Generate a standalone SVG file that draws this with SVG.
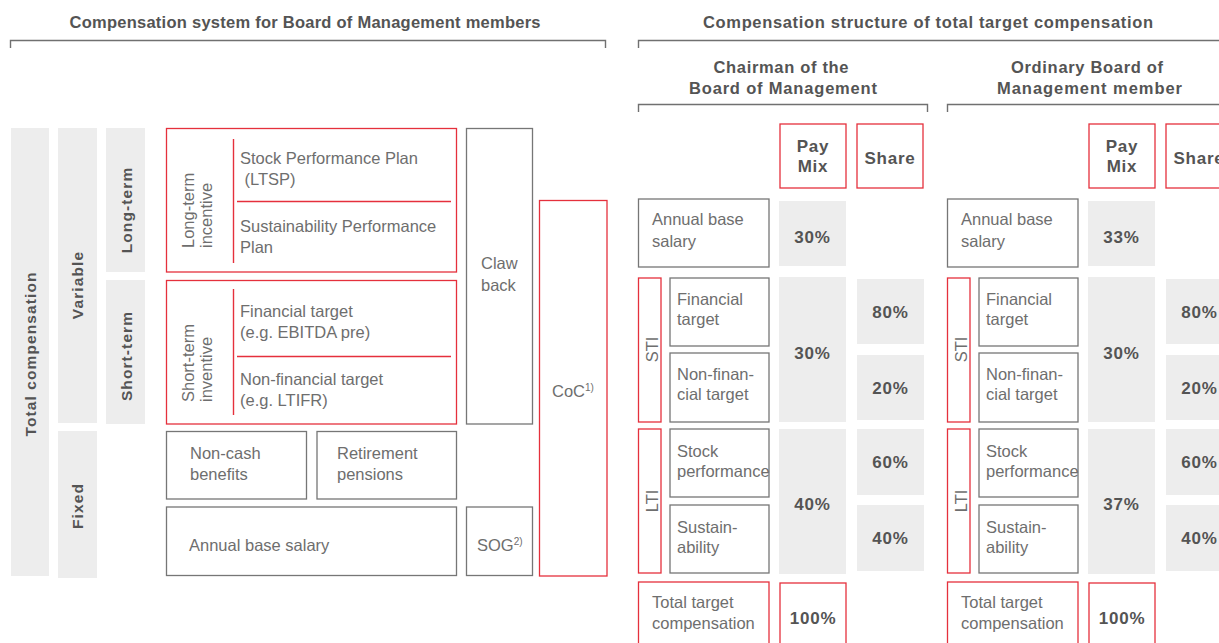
<svg xmlns="http://www.w3.org/2000/svg" width="1219" height="643" viewBox="0 0 1219 643">
<style>
.g{fill:#ededed}
.bx{fill:none;stroke:#767676;stroke-width:1.3}
.rb{fill:none;stroke:#e5303c;stroke-width:1.3}
.rl{stroke:#e5303c;stroke-width:1.4}
.br{fill:none;stroke:#707070;stroke-width:1.4}
.t{font-family:"Liberation Sans",Arial,sans-serif;font-size:16.5px;fill:#6e6e6e}
.b{font-family:"Liberation Sans",Arial,sans-serif;font-weight:bold;font-size:16.5px;fill:#545454}
.v{font-family:"Liberation Sans",Arial,sans-serif;font-weight:bold;font-size:15.5px;fill:#545454;letter-spacing:1.1px}
.p{font-family:"Liberation Sans",Arial,sans-serif;font-weight:bold;font-size:17px;fill:#545454;letter-spacing:0.8px;text-anchor:middle}
.sup{font-size:10px}
</style>
<rect width="1219" height="643" fill="#ffffff"/>

<g id="brackets">
<path class="br" d="M10.5,48 V40.5 H605.5 V48"/>
<path class="br" d="M638.5,48 V40.5 H1219"/>
<path class="br" d="M638.5,112 V104.5 H927.5 V112"/>
<path class="br" d="M947.5,112 V104.5 H1219"/>
</g>

<g id="titles">
<text class="b" x="305" y="28" text-anchor="middle" textLength="471">Compensation system for Board of Management members</text>
<text class="b" x="928" y="28" text-anchor="middle" textLength="450">Compensation structure of total target compensation</text>
<text class="b" x="781" y="73" text-anchor="middle" textLength="135">Chairman of the</text>
<text class="b" x="783" y="94" text-anchor="middle" textLength="188">Board of Management</text>
<text class="b" x="1087" y="73" text-anchor="middle" textLength="152">Ordinary Board of</text>
<text class="b" x="1089.5" y="94" text-anchor="middle" textLength="185">Management member</text>
</g>

<g id="total-compensation">
<rect class="g" x="11" y="128" width="38" height="448"/>
<text class="v" transform="translate(35.5,354) rotate(-90)" text-anchor="middle">Total compensation</text>
</g>
<g id="variable">
<rect class="g" x="58" y="128" width="39" height="295"/>
<text class="v" transform="translate(83,285) rotate(-90)" text-anchor="middle">Variable</text>
</g>
<g id="fixed">
<rect class="g" x="58" y="431" width="39" height="147"/>
<text class="v" transform="translate(83,506) rotate(-90)" text-anchor="middle">Fixed</text>
</g>
<g id="long-term">
<rect class="g" x="106" y="128" width="39" height="144"/>
<text class="v" transform="translate(131.5,210) rotate(-90)" text-anchor="middle">Long-term</text>
</g>
<g id="short-term">
<rect class="g" x="106" y="280" width="39" height="144"/>
<text class="v" transform="translate(131.5,356) rotate(-90)" text-anchor="middle">Short-term</text>
</g>

<g id="lti-system">
<rect class="rb" x="166.5" y="128.5" width="290" height="143.5"/>
<line class="rl" x1="233.5" y1="139" x2="233.5" y2="263"/>
<line class="rl" x1="237" y1="201.5" x2="451" y2="201.5"/>
<text class="t" transform="translate(193.5,248) rotate(-90)">Long-term</text>
<text class="t" transform="translate(212,248) rotate(-90)">incentive</text>
<text class="t" x="240" y="164">Stock Performance Plan</text>
<text class="t" x="240" y="185" xml:space="preserve"> (LTSP)</text>
<text class="t" x="240" y="232">Sustainability Performance</text>
<text class="t" x="240" y="253">Plan</text>
</g>
<g id="sti-system">
<rect class="rb" x="166.5" y="280.5" width="290" height="143.5"/>
<line class="rl" x1="233.5" y1="289" x2="233.5" y2="415"/>
<line class="rl" x1="237" y1="356.5" x2="451" y2="356.5"/>
<text class="t" transform="translate(193.5,402) rotate(-90)">Short-term</text>
<text class="t" transform="translate(212,402) rotate(-90)">inventive</text>
<text class="t" x="240" y="317">Financial target</text>
<text class="t" x="240" y="337.5">(e.g. EBITDA pre)</text>
<text class="t" x="240" y="385">Non-financial target</text>
<text class="t" x="240" y="406">(e.g. LTIFR)</text>
</g>
<g id="claw-back">
<rect class="bx" x="466.5" y="128.5" width="66" height="295.5"/>
<text class="t" x="481" y="269">Claw</text>
<text class="t" x="481" y="290.5">back</text>
</g>
<g id="coc">
<rect class="rb" x="539.5" y="200.5" width="67.5" height="375.5"/>
<text class="t" x="552" y="397">CoC<tspan class="sup" dy="-6">1)</tspan></text>
</g>
<g id="non-cash">
<rect class="bx" x="166.5" y="431.5" width="140" height="67.5"/>
<text class="t" x="190" y="459">Non-cash</text>
<text class="t" x="190" y="480">benefits</text>
</g>
<g id="retirement">
<rect class="bx" x="317" y="431.5" width="139.5" height="67.5"/>
<text class="t" x="337" y="459">Retirement</text>
<text class="t" x="337" y="480">pensions</text>
</g>
<g id="annual-base-salary">
<rect class="bx" x="166.5" y="507" width="290" height="68.5"/>
<text class="t" x="189" y="551">Annual base salary</text>
</g>
<g id="sog">
<rect class="bx" x="466.5" y="507" width="66" height="68.5"/>
<text class="t" x="477" y="551">SOG<tspan class="sup" dy="-6">2)</tspan></text>
</g>

<g id="chairman">
<rect class="rb" x="780" y="124" width="66" height="64"/>
<text class="p" x="813" y="152">Pay</text>
<text class="p" x="813" y="172">Mix</text>
<rect class="rb" x="857" y="124" width="66" height="64"/>
<text class="p" x="890" y="164">Share</text>

<rect class="bx" x="638.5" y="199" width="130.5" height="68"/>
<text class="t" x="652" y="225">Annual base</text>
<text class="t" x="652" y="247">salary</text>
<rect class="g" x="779" y="201" width="67" height="65"/>
<text class="p" x="812.5" y="243">30%</text>

<rect class="rb" x="638.5" y="278" width="22.5" height="144"/>
<text class="t" transform="translate(657.5,349.5) rotate(-90)" text-anchor="middle">STI</text>
<rect class="bx" x="670" y="278" width="99" height="68"/>
<text class="t" x="677" y="305">Financial</text>
<text class="t" x="677" y="325">target</text>
<rect class="bx" x="670" y="353" width="99" height="69"/>
<text class="t" x="677" y="380">Non-finan-</text>
<text class="t" x="677" y="400">cial target</text>
<rect class="g" x="779" y="277" width="67" height="145"/>
<text class="p" x="812.5" y="359">30%</text>
<rect class="g" x="857" y="279" width="67" height="65"/>
<text class="p" x="890.5" y="318">80%</text>
<rect class="g" x="857" y="355" width="67" height="65"/>
<text class="p" x="890.5" y="394">20%</text>

<rect class="rb" x="638.5" y="429" width="22.5" height="144"/>
<text class="t" transform="translate(657.5,501) rotate(-90)" text-anchor="middle">LTI</text>
<rect class="bx" x="670" y="429" width="99" height="68"/>
<text class="t" x="677" y="457">Stock</text>
<text class="t" x="677" y="477">performance</text>
<rect class="bx" x="670" y="505" width="99" height="68"/>
<text class="t" x="677" y="533">Sustain-</text>
<text class="t" x="677" y="553">ability</text>
<rect class="g" x="779" y="429" width="67" height="145"/>
<text class="p" x="812.5" y="510">40%</text>
<rect class="g" x="857" y="429" width="67" height="66"/>
<text class="p" x="890.5" y="468">60%</text>
<rect class="g" x="857" y="505" width="67" height="66"/>
<text class="p" x="890.5" y="544">40%</text>

<rect class="rb" x="638.5" y="582" width="130.5" height="80"/>
<text class="t" x="652" y="608">Total target</text>
<text class="t" x="652" y="629">compensation</text>
<rect class="rb" x="780" y="583" width="66" height="80"/>
<text class="p" x="813" y="624">100%</text>
</g>

<g id="ordinary-member">
<rect class="rb" x="1089" y="124" width="66" height="64"/>
<text class="p" x="1122" y="152">Pay</text>
<text class="p" x="1122" y="172">Mix</text>
<rect class="rb" x="1166" y="124" width="66" height="64"/>
<text class="p" x="1199" y="164">Share</text>

<rect class="bx" x="947.5" y="199" width="130.5" height="68"/>
<text class="t" x="961" y="225">Annual base</text>
<text class="t" x="961" y="247">salary</text>
<rect class="g" x="1088" y="201" width="67" height="65"/>
<text class="p" x="1121.5" y="243">33%</text>

<rect class="rb" x="947.5" y="278" width="22.5" height="144"/>
<text class="t" transform="translate(966.5,349.5) rotate(-90)" text-anchor="middle">STI</text>
<rect class="bx" x="979" y="278" width="99" height="68"/>
<text class="t" x="986" y="305">Financial</text>
<text class="t" x="986" y="325">target</text>
<rect class="bx" x="979" y="353" width="99" height="69"/>
<text class="t" x="986" y="380">Non-finan-</text>
<text class="t" x="986" y="400">cial target</text>
<rect class="g" x="1088" y="277" width="67" height="145"/>
<text class="p" x="1121.5" y="359">30%</text>
<rect class="g" x="1166" y="279" width="67" height="65"/>
<text class="p" x="1199.5" y="318">80%</text>
<rect class="g" x="1166" y="355" width="67" height="65"/>
<text class="p" x="1199.5" y="394">20%</text>

<rect class="rb" x="947.5" y="429" width="22.5" height="144"/>
<text class="t" transform="translate(966.5,501) rotate(-90)" text-anchor="middle">LTI</text>
<rect class="bx" x="979" y="429" width="99" height="68"/>
<text class="t" x="986" y="457">Stock</text>
<text class="t" x="986" y="477">performance</text>
<rect class="bx" x="979" y="505" width="99" height="68"/>
<text class="t" x="986" y="533">Sustain-</text>
<text class="t" x="986" y="553">ability</text>
<rect class="g" x="1088" y="429" width="67" height="145"/>
<text class="p" x="1121.5" y="510">37%</text>
<rect class="g" x="1166" y="429" width="67" height="66"/>
<text class="p" x="1199.5" y="468">60%</text>
<rect class="g" x="1166" y="505" width="67" height="66"/>
<text class="p" x="1199.5" y="544">40%</text>

<rect class="rb" x="947.5" y="582" width="130.5" height="80"/>
<text class="t" x="961" y="608">Total target</text>
<text class="t" x="961" y="629">compensation</text>
<rect class="rb" x="1089" y="583" width="66" height="80"/>
<text class="p" x="1122" y="624">100%</text>
</g>
</svg>
